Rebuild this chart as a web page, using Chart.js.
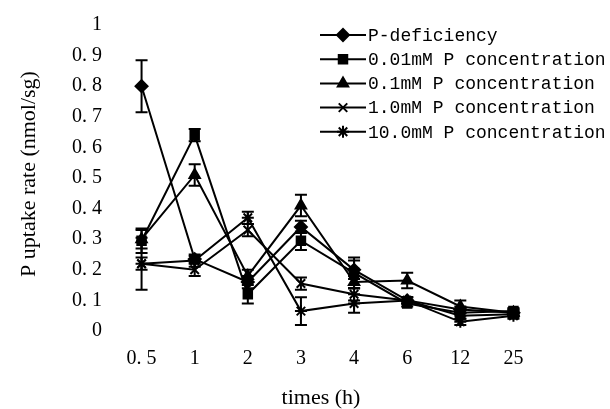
<!DOCTYPE html>
<html>
<head>
<meta charset="utf-8">
<script src="https://cdn.jsdelivr.net/npm/chart.js@4"></script>
<style>
  html, body { margin: 0; padding: 0; background: #fff; }
  #wrap { width: 610px; height: 409px; }
</style>
</head>
<body>
<div id="wrap"><canvas id="uptakeChart" width="610" height="409"></canvas></div>
<script>
const times = ['0. 5', '1', '2', '3', '4', '6', '12', '25'];

const pDeficiency = [0.80, 0.235, 0.16, 0.34, 0.20, 0.10, 0.07, 0.06];
const p001 = [0.295, 0.64, 0.12, 0.295, 0.19, 0.09, 0.06, 0.065];
const p01 = [0.30, 0.51, 0.18, 0.41, 0.16, 0.165, 0.08, 0.06];
const p10 = [0.22, 0.20, 0.33, 0.155, 0.12, 0.10, 0.05, 0.055];
const p100 = [0.22, 0.23, 0.37, 0.065, 0.09, 0.10, 0.03, 0.05];

// +/- error per point
const errDeficiency = [0.085, 0.01, 0.02, 0.02, 0.03, 0.01, 0.01, 0.01];
const err001 = [0.04, 0.02, 0.03, 0.03, 0.05, 0.01, 0.01, 0.01];
const err01 = [0.03, 0.035, 0.02, 0.035, 0.02, 0.025, 0.02, 0.01];
const err10 = [0.02, 0.02, 0.02, 0.02, 0.02, 0.01, 0.01, 0.01];
const err100 = [0.085, 0.02, 0.02, 0.045, 0.03, 0.01, 0.01, 0.01];

const seriesNames = ['P-deficiency', '0.01mM P concentration', '0.1mM P concentration',
  '1.0mM P concentration', '10.0mM P concentration'];
const xTitle = 'times (h)';
const yTitle = 'P uptake rate (nmol/sg)';

function mkSet(label, data, err, style, radius) {
  return {
    label: label,
    data: data,
    err: err,
    borderColor: '#000',
    backgroundColor: '#000',
    borderWidth: 2,
    pointStyle: style,
    pointRadius: radius,
    pointBorderWidth: 2,
    tension: 0
  };
}

// error bars, drawn under the lines
const errorBars = {
  id: 'errorBars',
  beforeDatasetsDraw(chart) {
    const c = chart.ctx, ys = chart.scales.y, xs = chart.scales.x;
    c.save();
    c.strokeStyle = '#000';
    c.lineWidth = 2;
    chart.data.datasets.forEach(ds => {
      ds.data.forEach((v, i) => {
        const x = xs.getPixelForValue(i);
        const top = ys.getPixelForValue(v + ds.err[i]);
        const bot = ys.getPixelForValue(v - ds.err[i]);
        c.beginPath();
        c.moveTo(x, top); c.lineTo(x, bot);
        c.moveTo(x - 6, top); c.lineTo(x + 6, top);
        c.moveTo(x - 6, bot); c.lineTo(x + 6, bot);
        c.stroke();
      });
    });
    c.restore();
  }
};

// legend (line with marker in the middle) and the two axis titles
const lineLegend = {
  id: 'lineLegend',
  afterDraw(chart) {
    const c = chart.ctx;
    c.save();
    c.font = '18px "Liberation Mono", monospace';
    c.textBaseline = 'middle';
    c.fillStyle = '#000';
    chart.data.datasets.forEach((ds, i) => {
      const y = 35 + i * 24.2;
      c.strokeStyle = '#000';
      c.lineWidth = 2;
      c.beginPath();
      c.moveTo(320, y); c.lineTo(366, y);
      c.stroke();
      Chart.helpers.drawPoint(c, {
        pointStyle: ds.pointStyle, radius: ds.pointRadius, rotation: 0, borderWidth: 2
      }, 343, y);
      c.fillText(ds.label, 368, y + 1);
    });

    c.font = '22px "Liberation Serif", serif';
    c.textAlign = 'center';
    c.fillText(xTitle, 321, 398);
    c.translate(29, 174);
    c.rotate(-Math.PI / 2);
    c.fillText(yTitle, 0, 0);
    c.restore();
  }
};

const ctx = document.getElementById('uptakeChart').getContext('2d');
const uptakeChart = new Chart(ctx, {
  type: 'line',
  data: {
    labels: times,
    datasets: [
      mkSet(seriesNames[0], pDeficiency, errDeficiency, 'rectRot', 6),
      mkSet(seriesNames[1], p001, err001, 'rect', 6),
      mkSet(seriesNames[2], p01, err01, 'triangle', 6),
      mkSet(seriesNames[3], p10, err10, 'crossRot', 6),
      mkSet(seriesNames[4], p100, err100, 'star', 6)
    ]
  },
  options: {
    responsive: false,
    animation: false,
    layout: { padding: { top: 8, right: 70, bottom: 22, left: 59 } },
    plugins: { legend: { display: false }, tooltip: { enabled: false } },
    scales: {
      x: {
        offset: true,
        grid: { display: false, drawTicks: false, tickLength: 0 },
        border: { display: false },
        ticks: { color: '#000', padding: 16, font: { family: '"Liberation Serif", serif', size: 20 } }
      },
      y: {
        min: 0, max: 1,
        grid: { display: false, drawTicks: false, tickLength: 0 },
        border: { display: false },
        ticks: {
          stepSize: 0.1, color: '#000', padding: 13,
          font: { family: '"Liberation Serif", serif', size: 20 },
          callback: v => {
            const r = Math.round(v * 10) / 10;
            return (r === 0 || r === 1) ? String(r) : r.toFixed(1).replace('.', '. ');
          }
        }
      }
    }
  },
  plugins: [errorBars, lineLegend]
});
</script>
</body>
</html>
